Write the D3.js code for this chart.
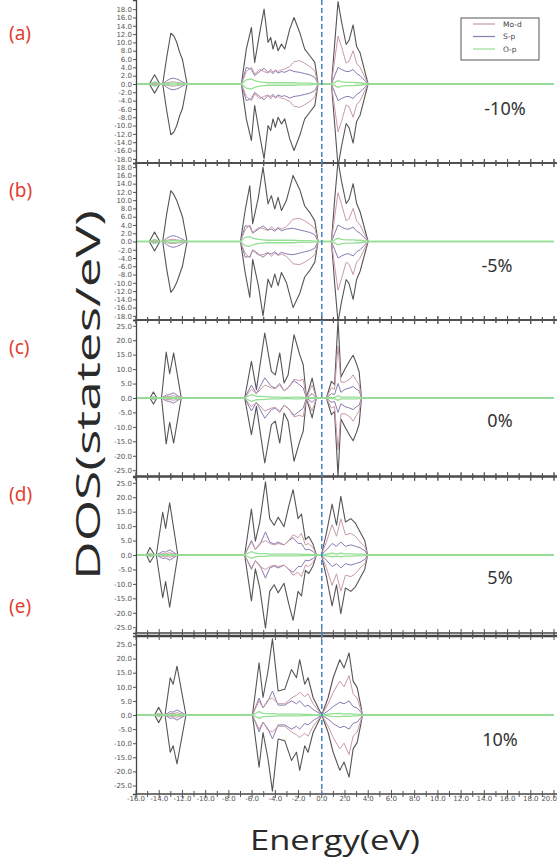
<!DOCTYPE html>
<html>
<head>
<meta charset="utf-8">
<script src="https://cdnjs.cloudflare.com/ajax/libs/d3/7.8.5/d3.min.js"></script>
<style>
  body { margin: 0; background: #fff; }
  svg { display: block; }
</style>
</head>
<body>
<script>
// rows: [energy, total, Mo-d, S-p, O-p]  (spin down drawn as the mirror)
const dosA = [
  [-16.0, 0, 0, 0, 0], [-14.85, 0, 0, 0, 0], [-14.4, 2.2, 0.1, 0.4, 0.5], [-13.95, 0, 0, 0, 0],
  [-13.7, 0, 0, 0, 0], [-13.35, 6.5, 0.3, 0.8, 0.1], [-13.0, 12.2, 0.5, 1.3, 0.2], [-12.75, 11.6, 0.5, 1.4, 0.2],
  [-12.5, 10.1, 0.4, 1.2, 0.2], [-12.25, 7.7, 0.3, 0.9, 0.1], [-12.0, 5.9, 0.2, 0.5, 0.1], [-11.6, 0, 0, 0, 0],
  [-6.92, 0, 0, 0, 0], [-6.5, 8.4, 3.0, 4.0, 1.0], [-6.06, 13.6, 4.0, 3.5, 1.2], [-5.78, 5.2, 2.4, 2.0, 0.8],
  [-5.34, 12.4, 3.5, 3.0, 0.5], [-4.97, 18.0, 3.0, 3.8, 0.4], [-4.63, 10.0, 2.6, 2.8, 0.3], [-4.4, 11.2, 3.6, 3.0, 0.3],
  [-4.2, 8.4, 2.8, 2.5, 0.3], [-4.0, 10.4, 3.4, 3.2, 0.3], [-3.76, 8.0, 3.0, 2.6, 0.3], [-3.47, 9.6, 3.4, 3.0, 0.3],
  [-3.19, 8.4, 3.6, 2.8, 0.3], [-2.76, 13.2, 4.2, 3.4, 0.3], [-2.39, 16.0, 5.4, 3.0, 0.3], [-1.9, 12.4, 5.6, 2.8, 0.2],
  [-1.47, 8.4, 5.0, 2.5, 0.2], [-1.03, 6.8, 4.2, 2.2, 0.2], [-0.6, 5.2, 3.2, 1.6, 0.1], [-0.32, 0, 0, 0, 0],
  [0.83, 0, 0, 0, 0], [1.12, 10.0, 6.0, 2.0, 0.4], [1.4, 19.8, 11.5, 4.0, 0.8], [1.7, 15.0, 9.0, 3.5, 0.5],
  [2.1, 9.5, 5.0, 3.0, 0.4], [2.35, 10.5, 5.5, 3.0, 0.4], [2.7, 14.2, 8.0, 3.5, 0.4], [3.0, 9.0, 5.0, 2.5, 0.3],
  [3.3, 7.5, 4.0, 2.0, 0.3], [3.99, 0, 0, 0, 0], [20.0, 0, 0, 0, 0]
]

const dosB = [
  [-16.0, 0, 0, 0, 0], [-14.85, 0, 0, 0, 0], [-14.4, 2.3, 0.1, 0.4, 0.5], [-13.95, 0, 0, 0, 0],
  [-13.7, 0, 0, 0, 0], [-13.35, 6.8, 0.3, 0.8, 0.1], [-13.0, 12.3, 0.5, 1.3, 0.2], [-12.75, 11.4, 0.5, 1.4, 0.2],
  [-12.5, 10.0, 0.4, 1.2, 0.2], [-12.25, 8.0, 0.3, 0.9, 0.1], [-12.0, 6.0, 0.2, 0.5, 0.1], [-11.6, 0, 0, 0, 0],
  [-7.0, 0, 0, 0, 0], [-6.6, 7.5, 2.8, 3.8, 1.0], [-6.2, 13.5, 4.0, 3.6, 1.2], [-5.95, 4.3, 2.2, 2.0, 0.8],
  [-5.46, 10.7, 3.3, 3.0, 0.5], [-5.06, 18.0, 3.2, 3.8, 0.4], [-4.63, 9.1, 2.6, 2.8, 0.3], [-4.34, 11.1, 3.6, 3.0, 0.3],
  [-4.05, 7.9, 2.8, 2.5, 0.3], [-3.76, 10.7, 3.4, 3.2, 0.3], [-3.47, 7.5, 3.0, 2.6, 0.3], [-3.05, 9.9, 3.6, 3.0, 0.3],
  [-2.47, 16.0, 5.4, 3.2, 0.3], [-1.9, 12.6, 5.6, 2.8, 0.2], [-1.47, 8.6, 5.0, 2.5, 0.2], [-1.03, 7.0, 4.2, 2.2, 0.2],
  [-0.6, 5.0, 3.2, 1.6, 0.1], [-0.32, 0, 0, 0, 0],
  [0.83, 0, 0, 0, 0], [1.12, 10.5, 6.2, 2.0, 0.4], [1.4, 19.5, 11.8, 4.0, 0.8], [1.7, 14.6, 9.0, 3.5, 0.5],
  [2.1, 9.2, 5.0, 3.0, 0.4], [2.35, 10.2, 5.5, 3.0, 0.4], [2.7, 14.0, 8.0, 3.5, 0.4], [3.0, 9.2, 5.0, 2.5, 0.3],
  [3.3, 7.2, 4.0, 2.0, 0.3], [3.99, 0, 0, 0, 0], [20.0, 0, 0, 0, 0]
]

const dosC = [
  [-16.0, 0, 0, 0, 0], [-14.8, 0, 0, 0, 0], [-14.5, 2.1, 0.1, 0.4, 0.5], [-14.2, 0, 0, 0, 0],
  [-13.8, 0, 0, 0, 0], [-13.4, 15.9, 0.5, 1.0, 0.1], [-13.1, 8.4, 0.5, 1.2, 0.1], [-12.76, 15.6, 0.8, 1.8, 0.2],
  [-12.1, 0, 0, 0, 0],
  [-6.64, 0, 0, 0, 0], [-6.06, 12.7, 3.0, 4.5, 1.2], [-5.63, 2.9, 1.5, 1.5, 0.6], [-4.91, 22.5, 4.5, 7.0, 0.5],
  [-4.34, 9.2, 3.5, 4.0, 0.3], [-4.0, 8.0, 3.2, 3.5, 0.3], [-3.62, 15.6, 4.5, 5.0, 0.3], [-3.25, 5.2, 2.5, 2.5, 0.2],
  [-2.9, 8.0, 3.5, 3.5, 0.2], [-2.39, 21.9, 6.5, 6.0, 0.3], [-1.9, 15.0, 6.0, 4.5, 0.3], [-1.6, 11.5, 6.5, 3.5, 0.2],
  [-1.32, 0, 0, 0, 0], [-0.83, 6.9, 4.5, 1.5, 0.1], [-0.46, 0, 0, 0, 0],
  [0.4, 0, 0, 0, 0], [0.83, 5.8, 3.5, 1.5, 0.2], [1.1, 4.6, 3.0, 1.2, 0.2], [1.4, 27.0, 18.0, 5.0, 0.8],
  [1.65, 7.3, 5.5, 2.0, 0.3], [2.0, 10.0, 5.5, 3.0, 0.3], [2.41, 13.0, 6.5, 3.5, 0.3], [2.7, 14.8, 8.0, 4.0, 0.3],
  [2.99, 11.9, 6.0, 3.0, 0.3], [3.22, 9.0, 4.5, 2.5, 0.2], [3.42, 0, 0, 0, 0], [20.0, 0, 0, 0, 0]
]

const dosD = [
  [-16.0, 0, 0, 0, 0], [-15.1, 0, 0, 0, 0], [-14.8, 2.6, 0.1, 0.4, 0.6], [-14.4, 0, 0, 0, 0],
  [-14.25, 0, 0, 0, 0], [-13.7, 14.8, 0.5, 1.2, 0.1], [-13.45, 9.2, 0.4, 1.0, 0.1], [-13.1, 18.1, 0.8, 1.8, 0.2],
  [-12.4, 0, 0, 0, 0],
  [-6.64, 0, 0, 0, 0], [-6.06, 15.9, 4.5, 5.0, 1.2], [-5.72, 4.8, 2.0, 2.0, 0.6], [-5.34, 11.4, 4.0, 3.5, 0.5],
  [-4.85, 25.3, 5.0, 8.0, 0.5], [-4.48, 12.6, 4.0, 4.5, 0.3], [-4.1, 10.3, 3.5, 3.8, 0.3], [-3.76, 13.1, 4.0, 4.5, 0.3],
  [-3.25, 9.8, 3.5, 3.5, 0.3], [-2.84, 17.0, 5.0, 5.0, 0.3], [-2.47, 22.6, 7.0, 6.0, 0.3], [-2.04, 12.6, 6.0, 4.0, 0.3],
  [-1.75, 14.2, 7.5, 4.0, 0.2], [-1.41, 5.3, 3.5, 1.8, 0.2], [-1.12, 6.4, 4.0, 2.0, 0.2], [-0.75, 3.7, 2.5, 1.2, 0.1],
  [-0.46, 0, 0, 0, 0],
  [-0.03, 0, 0, 0, 0], [0.4, 7.6, 4.5, 1.8, 0.3], [0.89, 17.6, 10.5, 4.0, 0.6], [1.27, 10.3, 6.5, 3.0, 0.4],
  [1.64, 20.3, 12.5, 4.5, 0.6], [2.04, 11.4, 7.0, 3.0, 0.4], [2.5, 12.6, 7.5, 3.5, 0.4], [2.9, 11.0, 6.5, 3.0, 0.3],
  [3.3, 8.0, 4.5, 2.5, 0.3], [3.7, 5.0, 3.0, 1.5, 0.2], [3.95, 0, 0, 0, 0], [20.0, 0, 0, 0, 0]
]

const dosE = [
  [-16.0, 0, 0, 0, 0], [-14.4, 0, 0, 0, 0], [-14.05, 2.7, 0.1, 0.4, 0.6], [-13.7, 0, 0, 0, 0],
  [-13.5, 0, 0, 0, 0], [-13.05, 13.2, 0.5, 1.2, 0.1], [-12.8, 10.9, 0.5, 1.0, 0.1], [-12.47, 17.3, 0.8, 1.8, 0.2],
  [-11.7, 0, 0, 0, 0],
  [-5.97, 0, 0, 0, 0], [-5.4, 18.5, 5.0, 6.0, 1.2], [-5.06, 6.2, 2.5, 2.5, 0.6], [-4.63, 15.6, 5.5, 5.0, 0.5],
  [-4.25, 27.0, 6.0, 8.5, 0.5], [-3.76, 8.5, 4.0, 3.5, 0.3], [-3.19, 9.1, 4.0, 3.5, 0.3], [-2.61, 16.1, 6.0, 5.0, 0.3],
  [-2.18, 13.2, 7.0, 4.0, 0.3], [-1.9, 19.6, 8.0, 5.0, 0.3], [-1.47, 10.9, 6.5, 3.0, 0.2], [-1.18, 13.2, 7.5, 3.5, 0.2],
  [-0.75, 6.2, 4.0, 2.0, 0.1], [0.0, 0, 0, 0, 0],
  [0.55, 6.2, 4.0, 1.5, 0.3], [0.98, 13.2, 8.0, 3.0, 0.5], [1.55, 19.6, 12.0, 4.5, 0.6], [1.92, 16.7, 10.0, 4.0, 0.4],
  [2.35, 22.0, 14.0, 5.0, 0.5], [2.7, 12.0, 7.5, 3.0, 0.3], [3.05, 9.7, 6.0, 2.5, 0.3], [3.36, 3.3, 2.0, 1.0, 0.1],
  [3.5, 0, 0, 0, 0], [20.0, 0, 0, 0, 0]
]

const panelLetters = ['(a)', '(b)', '(c)', '(d)', '(e)']
const strainLabels = ['-10%', '-5%', '0%', '5%', '10%']
const legendNames = ['Mo-d', 'S-p', 'O-p']
const yTicksSmall = [-18, -16, -14, -12, -10, -8, -6, -4, -2, 0, 2, 4, 6, 8, 10, 12, 14, 16, 18]
const yTicksLarge = [-25, -20, -15, -10, -5, 0, 5, 10, 15, 20, 25]
const xTickValues = [-16, -14, -12, -10, -8, -6, -4, -2, 0, 2, 4, 6, 8, 10, 12, 14, 16, 18, 20]

const colors = { tot: '#555', mod: '#c99aa3', sp: '#8a7ab0', op: '#95e095' }

const svg = d3.select('body').append('svg')
  .attr('width', 557)
  .attr('height', 860)

const x = d3.scaleLinear().domain([-16, 20]).range([136, 554])

const panels = [
  { rows: dosA, top: 0, bottom: 163, domain: [-19, 20.2], ticks: yTicksSmall, letterY: 40, strainX: 505, strainY: 115, frameTop: false },
  { rows: dosB, top: 163, bottom: 320, domain: [-19, 19], ticks: yTicksSmall, letterY: 197, strainX: 497, strainY: 272, frameTop: true },
  { rows: dosC, top: 320, bottom: 476, domain: [-27, 27], ticks: yTicksLarge, letterY: 354, strainX: 500, strainY: 427, frameTop: true },
  { rows: dosD, top: 477, bottom: 633, domain: [-27, 27], ticks: yTicksLarge, letterY: 501, strainX: 500, strainY: 584, frameTop: true },
  { rows: dosE, top: 636, bottom: 794, domain: [-28, 28], ticks: yTicksLarge, letterY: 613, strainX: 500, strainY: 746, frameTop: true }
]

const defs = svg.append('defs')

panels.forEach(function (p, k) {
  const y = d3.scaleLinear().domain(p.domain).range([p.bottom, p.top])

  defs.append('clipPath').attr('id', 'clip' + k)
    .append('rect')
    .attr('x', 136).attr('y', p.top)
    .attr('width', 421).attr('height', p.bottom - p.top)

  const g = svg.append('g').attr('clip-path', 'url(#clip' + k + ')')

  const series = [[1, colors.tot, 1.1], [3, colors.sp, 1], [2, colors.mod, 1], [4, colors.op, 1.3]]
  series.forEach(function (s) {
    const col = s[0]
    ;[1, -1].forEach(function (sign) {
      g.append('path')
        .datum(p.rows)
        .attr('d', d3.line()
          .x(function (d) { return x(d[0]) })
          .y(function (d) { return y(sign * d[col]) }))
        .attr('fill', 'none')
        .attr('stroke', s[1])
        .attr('stroke-width', s[2])
        .attr('stroke-linejoin', 'round')
    })
  })

  // left axis
  const ax = svg.append('g')
    .attr('transform', 'translate(136,0)')
    .call(d3.axisLeft(y).tickValues(p.ticks).tickSize(3).tickPadding(1)
      .tickFormat(function (d) { return d3.format('.1f')(d).replace('−', '-') }))
  ax.select('.domain').attr('stroke', '#444').attr('stroke-width', 1.3)
  ax.selectAll('line').attr('stroke', '#555')
  ax.selectAll('text')
    .attr('font-size', 7)
    .attr('font-family', 'DejaVu Sans, sans-serif')
    .attr('fill', '#555')

  // frame lines with crossing ticks
  const edges = p.frameTop ? [p.top, p.bottom] : [p.bottom]
  edges.forEach(function (ey) {
    svg.append('line')
      .attr('x1', 136).attr('x2', 557)
      .attr('y1', ey).attr('y2', ey)
      .attr('stroke', '#444')
      .attr('stroke-width', k === 4 && ey === p.top ? 2.5 : 1.5)
    svg.append('g').selectAll('line')
      .data(x.ticks(36))
      .enter()
      .append('line')
      .attr('x1', function (d) { return x(d) })
      .attr('x2', function (d) { return x(d) })
      .attr('y1', function (d) { return ey - (d % 2 === 0 ? 4 : 3) })
      .attr('y2', function (d) { return ey + (d % 2 === 0 ? 4 : 3) })
      .attr('stroke', '#555')
      .attr('stroke-width', 1)
  })

  svg.append('text')
    .attr('x', 9).attr('y', p.letterY)
    .attr('font-family', 'Noto Sans, sans-serif')
    .attr('font-size', 19)
    .attr('fill', '#e2402f')
    .text(panelLetters[k])

  svg.append('text')
    .attr('x', p.strainX).attr('y', p.strainY)
    .attr('text-anchor', 'middle')
    .attr('font-family', 'Noto Sans, sans-serif')
    .attr('font-size', 18)
    .attr('fill', '#333')
    .text(strainLabels[k])
})

// bottom energy tick labels
svg.append('g').selectAll('text')
  .data(xTickValues)
  .enter()
  .append('text')
  .attr('x', function (d) { return d === 20 ? 557 : x(d) })
  .attr('y', 801)
  .attr('text-anchor', function (d) { return d === 20 ? 'end' : 'middle' })
  .attr('font-size', 7)
  .attr('font-family', 'DejaVu Sans, sans-serif')
  .attr('fill', '#555')
  .text(function (d) { return d3.format('.1f')(d).replace('−', '-') })

// Fermi level
svg.append('line')
  .attr('x1', x(0)).attr('x2', x(0))
  .attr('y1', 0).attr('y2', 794)
  .attr('stroke', '#4f86c6')
  .attr('stroke-width', 1.6)
  .attr('stroke-dasharray', '5,3')

// legend
const lg = svg.append('g')
lg.append('rect')
  .attr('x', 461).attr('y', 18)
  .attr('width', 78).attr('height', 42)
  .attr('fill', '#fff')
  .attr('stroke', '#555')
  .attr('stroke-width', 1)
const legendColors = [colors.mod, colors.sp, colors.op]
legendNames.forEach(function (name, i) {
  const ly = 24 + i * 12.5
  lg.append('line')
    .attr('x1', 473).attr('x2', 495)
    .attr('y1', ly).attr('y2', ly)
    .attr('stroke', legendColors[i])
    .attr('stroke-width', 1.2)
  lg.append('text')
    .attr('x', 503).attr('y', ly + 2.5)
    .attr('font-size', 7.5)
    .attr('font-family', 'DejaVu Sans, sans-serif')
    .attr('fill', '#444')
    .text(name)
})

// axis titles
svg.append('text')
  .attr('transform', 'translate(100,395) rotate(-90)')
  .attr('text-anchor', 'middle')
  .attr('font-family', 'Open Sans, sans-serif')
  .attr('font-size', 32)
  .attr('fill', '#2a2a2a')
  .attr('textLength', 370)
  .attr('lengthAdjust', 'spacingAndGlyphs')
  .text('DOS(states/eV)')

svg.append('text')
  .attr('x', 335).attr('y', 850)
  .attr('text-anchor', 'middle')
  .attr('font-family', 'Open Sans, sans-serif')
  .attr('font-size', 27)
  .attr('fill', '#2a2a2a')
  .attr('textLength', 170)
  .attr('lengthAdjust', 'spacingAndGlyphs')
  .text('Energy(eV)')
</script>
</body>
</html>
